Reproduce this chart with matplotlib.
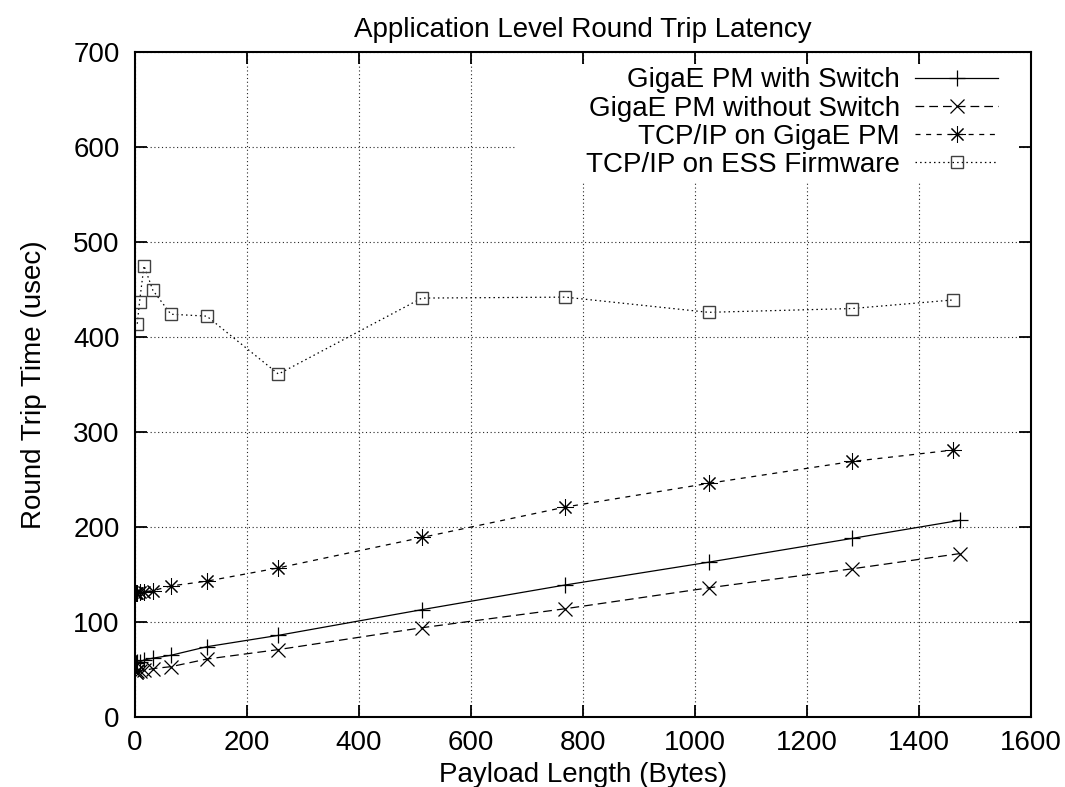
import numpy as np
import matplotlib
matplotlib.use("Agg")
import matplotlib.pyplot as plt
from matplotlib.patches import Rectangle

plt.rcParams['font.family'] = ['Liberation Sans', 'DejaVu Sans']

# payload sizes (bytes)
x_gige = [1, 2, 4, 8, 16, 32, 64, 128, 256, 512, 768, 1024, 1280, 1472]
x_tcp = [1, 2, 4, 8, 16, 32, 64, 128, 256, 512, 768, 1024, 1280, 1460]
x_ess = [4, 8, 16, 32, 64, 128, 256, 512, 768, 1024, 1280, 1460]

# round trip times (usec)
with_switch = [57, 57, 58, 58, 60, 62, 65, 74, 86, 113, 139, 163, 188, 207]
without_switch = [47, 47, 48, 48, 49, 51, 53, 61, 71, 94, 114, 136, 156, 172]
tcp_gige = [131, 131, 131, 132, 132, 133, 138, 143, 157, 189, 221, 246, 269, 281]
tcp_ess = [414, 437, 475, 449, 424, 422, 361, 441, 442, 426, 430, 439]

labels = ['GigaE PM with Switch', 'GigaE PM without Switch',
          'TCP/IP on GigaE PM', 'TCP/IP on ESS Firmware']

fig = plt.figure(figsize=(10.65, 7.87), dpi=100)
ax = fig.add_axes([0.1268, 0.0889, 0.8415, 0.845])

lw = 0.9
ax.plot(x_gige, with_switch, color='black', lw=lw, linestyle='-',
        marker='+', markersize=11, markeredgewidth=0.9, label=labels[0])
ax.plot(x_gige, without_switch, color='black', lw=lw, linestyle=(0, (7, 4)),
        marker='x', markersize=10, markeredgewidth=0.9, label=labels[1])
ax.plot(x_tcp, tcp_gige, color='black', lw=lw, linestyle=(0, (4, 4.5)),
        marker=(8, 2, 0), markersize=12, markeredgewidth=0.75, label=labels[2])
ax.plot(x_ess, tcp_ess, color='black', lw=lw, linestyle=(0, (1.2, 2.5)),
        marker='s', markersize=9, markeredgewidth=1.0, markerfacecolor='none',
        markeredgecolor='0.25', label=labels[3])

ax.set_xlim(0, 1600)
ax.set_ylim(0, 700)
ax.set_xticks(np.arange(0, 1601, 200))
ax.set_yticks(np.arange(0, 701, 100))
ax.set_axisbelow(True)
ax.grid(True, color='0.15', lw=0.8, linestyle=(0, (1, 2.4)))

# blank area behind the key, like gnuplot
ax.add_patch(Rectangle((0.424, 0.8045), 0.5626, 0.1775, transform=ax.transAxes,
                       facecolor='white', edgecolor='none', zorder=1))

ax.tick_params(direction='in', length=8.5, width=1.3, top=True, right=True,
               labelsize=20)
ax.tick_params(axis='x', pad=9)
ax.tick_params(axis='y', pad=11)
for s in ax.spines.values():
    s.set_linewidth(1.5)

ax.set_title('Application Level Round Trip Latency', fontsize=20, pad=11)
ax.set_xlabel('Payload Length (Bytes)', fontsize=20, labelpad=5)
ax.set_ylabel('Round Trip Time (usec)', fontsize=20, labelpad=19)

ax.legend(loc='upper right', bbox_to_anchor=(0.985, 1.006), markerfirst=False,
          frameon=False, fontsize=20, handlelength=3.0, handletextpad=0.55,
          labelspacing=0.08, borderpad=0.2)

fig.savefig('out.png', dpi=100)
